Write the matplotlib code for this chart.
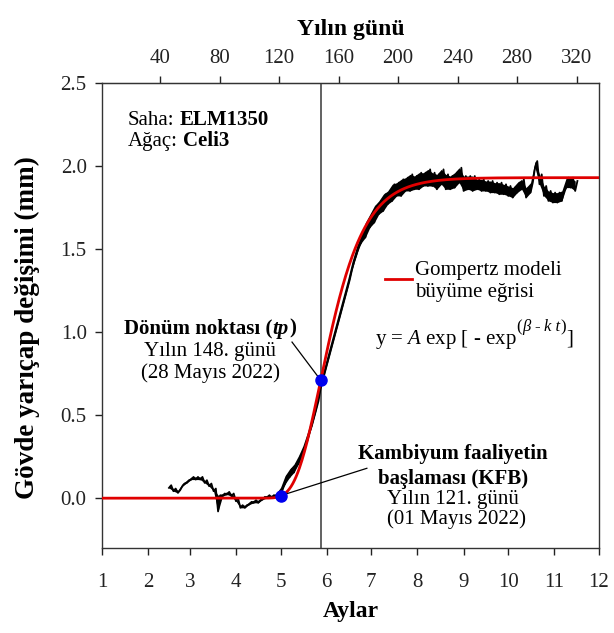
import matplotlib
matplotlib.use('Agg')
import matplotlib.pyplot as plt
import numpy as np
from matplotlib.transforms import ScaledTranslation

plt.rcParams['font.family'] = ['Liberation Serif', 'DejaVu Serif']
plt.rcParams['mathtext.fontset'] = 'custom'
plt.rcParams['mathtext.rm'] = 'Liberation Serif'
plt.rcParams['mathtext.it'] = 'Liberation Serif:italic'
plt.rcParams['mathtext.bf'] = 'Liberation Serif:bold'

# ---------------- data ----------------
month_tick_days = [1, 32, 60, 91, 121, 152, 182, 213, 244, 274, 305, 335]
month_labels = ['1', '2', '3', '4', '5', '6', '7', '8', '9', '10', '11', '12']
doy_ticks = [40, 80, 120, 160, 200, 240, 280, 320]
y_ticks = [0.0, 0.5, 1.0, 1.5, 2.0, 2.5]

obs_days = [46, 49, 52, 55, 58, 61, 64, 67, 70, 73,
            76, 79, 82, 85, 88, 91, 94, 97, 100, 103,
            106, 109, 112, 115, 118, 121, 124, 127, 130, 133,
            136, 139, 142, 145, 148, 151, 154, 157, 160, 163,
            166, 169, 172, 175, 178, 181, 184, 187, 190, 193,
            196, 199, 202, 205, 208, 211, 214, 217, 220, 223,
            226, 229, 232, 235, 238, 241, 244, 247, 250, 253,
            256, 259, 262, 265, 268, 271, 274, 277, 280, 283,
            286, 289, 292, 295, 298, 301, 304, 307, 310, 313,
            316, 319]
obs_max = [0.078, 0.058, 0.048, 0.088, 0.108, 0.128, 0.128, 0.128, 0.108, 0.088,
           0.058, 0.018, 0.028, 0.038, 0.028, -0.002, -0.042, -0.042, -0.022, -0.012,
           -0.012, 0.008, 0.018, 0.018, 0.028, 0.065, 0.135, 0.175, 0.205, 0.255,
           0.315, 0.395, 0.485, 0.585, 0.715, 0.815, 0.915, 1.015, 1.115, 1.215,
           1.315, 1.425, 1.515, 1.585, 1.66, 1.71, 1.76, 1.79, 1.83, 1.85,
           1.89, 1.90, 1.92, 1.93, 1.95, 1.94, 1.96, 1.96, 1.98, 1.96,
           1.95, 1.98, 1.95, 1.94, 1.96, 1.99, 1.94, 1.94, 1.94, 1.92,
           1.92, 1.91, 1.91, 1.90, 1.90, 1.89, 1.88, 1.87, 1.90, 1.92,
           1.87, 1.90, 2.03, 1.95, 1.88, 1.85, 1.84, 1.84, 1.85, 1.93,
           1.93, 1.91]
obs_min = [0.062, 0.042, 0.032, 0.072, 0.092, 0.112, 0.112, 0.112, 0.092, 0.072,
           0.042, -0.08, 0.012, 0.022, 0.012, -0.018, -0.058, -0.058, -0.038, -0.028,
           -0.028, -0.008, 0.002, 0.002, 0.012, 0.015, 0.085, 0.125, 0.155, 0.205,
           0.265, 0.345, 0.435, 0.535, 0.665, 0.765, 0.865, 0.965, 1.065, 1.165,
           1.265, 1.375, 1.465, 1.535, 1.57, 1.63, 1.66, 1.71, 1.73, 1.77,
           1.79, 1.82, 1.82, 1.85, 1.85, 1.86, 1.86, 1.88, 1.88, 1.88,
           1.86, 1.89, 1.86, 1.86, 1.87, 1.90, 1.85, 1.86, 1.85, 1.86,
           1.85, 1.85, 1.84, 1.84, 1.83, 1.83, 1.82, 1.81, 1.84, 1.86,
           1.81, 1.84, 1.99, 1.89, 1.82, 1.79, 1.78, 1.78, 1.79, 1.87,
           1.87, 1.85]

# Gompertz model parameters
gomp_A = 1.93
gomp_k = 0.06
gomp_beta = 8.88

tp_day, tp_val = 148, 0.71
kfb_day, kfb_val = 121, 0.015

# ---------------- figure ----------------
fig = plt.figure(figsize=(6.14, 6.33), dpi=100)
ax = fig.add_axes([102/614, 1-548/633, 497/614, 465/633])
ax.set_xlim(1, 335)
ax.set_ylim(-0.3, 2.5)

ax.axvline(tp_day, color='#555555', lw=1.3, zorder=1)

# measured band and zig-zag between daily minima and maxima
ax.fill_between(obs_days, obs_min, obs_max, color='black', lw=0, zorder=2)
zx, zy = [], []
for d, lo, hi in zip(obs_days, obs_min, obs_max):
    zx += [d, d + 1.5]
    zy += [lo, hi]
ax.plot(zx, zy, color='black', lw=1.3, zorder=2)

t = np.linspace(1, 335, 600)
y_model = gomp_A * np.exp(-np.exp(gomp_beta - gomp_k * t))
ax.plot(t, y_model, color='#e00000', lw=2.0, zorder=3)

# connector lines
ax.plot([tp_day, 128.7], [tp_val, 0.94], color='black', lw=0.9, zorder=4)
ax.plot([kfb_day, 179], [kfb_val, 0.18], color='black', lw=0.9, zorder=4)
ax.plot([tp_day], [tp_val], 'o', color='#0000ee', ms=8, zorder=5)
ax.plot([kfb_day], [kfb_val], 'o', color='#0000ee', ms=8, zorder=5)

# axes styling
ax.set_xticks(month_tick_days)
ax.set_xticklabels(month_labels)
ax.set_yticks(y_ticks)
ax.set_yticklabels([f'{v:.1f}' for v in y_ticks])
ax.tick_params(axis='x', direction='out', length=5, width=1, pad=13, labelsize=15, colors='#222222')
ax.tick_params(axis='y', direction='out', length=5, width=1, pad=6, labelsize=15, colors='#222222')
for s in ax.spines.values():
    s.set_color('#333333')
    s.set_linewidth(1.0)

sec = ax.secondary_xaxis('top')
sec.set_xticks(doy_ticks)
sec.tick_params(direction='out', length=5, width=1, pad=6, labelsize=15, colors='#222222')
sec.spines['top'].set_color('#333333')
sec.set_xlabel('Yılın günü', fontsize=17, fontweight='bold', labelpad=10)

ax.set_xlabel('Aylar', fontsize=17, fontweight='bold')
ax.xaxis.label.set_va('center')
ax.xaxis.set_label_coords(0.5, -(612-548)/465)
ax.set_ylabel('Gövde yarıçap değişimi (mm)', fontsize=19.5, fontweight='bold')
ax.yaxis.label.set_va('center')
ax.yaxis.set_label_coords((27-102)/497, 0.475)

# rich text helper
renderer = fig.canvas.get_renderer()

def _w(s, size, **kw):
    tt = fig.text(0, 0, s, size=size, **kw)
    w = tt.get_window_extent(renderer).width
    tt.remove()
    return w

def rich(x, y, parts, ha='center', size=15):
    texts, widths, dys = [], [], []
    for p in parts:
        s, kw = p[0], dict(p[1])
        dy = p[2] if len(p) > 2 else 0.0
        sz = kw.pop('size', size)
        if s == ' ':
            widths.append(_w('a a', sz, **kw) - _w('aa', sz, **kw))
            texts.append(None)
            dys.append(0)
            continue
        tt = ax.text(x, y, s, size=sz, ha='left', va='baseline', **kw)
        texts.append(tt)
        dys.append(dy)
        widths.append(tt.get_window_extent(renderer).width)
    total = sum(widths)
    off = -total / 2 if ha == 'center' else 0.0
    for tt, w, dy in zip(texts, widths, dys):
        if tt is not None:
            tt.set_transform(ax.transData + ScaledTranslation(off / fig.dpi, dy / 72.0,
                                                              fig.dpi_scale_trans))
        off += w

B = {'fontweight': 'bold'}
BI = {'fontweight': 'bold', 'fontstyle': 'italic'}
R = {}
FS = 15

rich(18.5, 2.246, [('Saha:', R), (' ', R), ('ELM1350', B)], ha='left')
rich(18.5, 2.118, [('Ağaç:', R), (' ', R), ('Celi3', B)], ha='left')

rich(73.6, 0.99, [('Dönüm noktası (', B), ('tp', BI), (')', B)])
ax.text(73.6, 0.855, 'Yılın 148. günü', size=FS, ha='center', va='baseline')
ax.text(73.6, 0.725, '(28 Mayıs 2022)', size=FS, ha='center', va='baseline')

ax.text(237, 0.234, 'Kambiyum faaliyetin', size=FS, ha='center', va='baseline', fontweight='bold')
ax.text(237, 0.084, 'başlaması (KFB)', size=FS, ha='center', va='baseline', fontweight='bold')
ax.text(237, -0.036, 'Yılın 121. günü', size=FS, ha='center', va='baseline')
ax.text(239, -0.156, '(01 Mayıs 2022)', size=FS, ha='center', va='baseline')

# legend
ax.plot([191, 209], [1.32, 1.32], color='#e00000', lw=2.0)
ax.text(211.3, 1.345, 'Gompertz modeli', size=FS, ha='left', va='baseline')
ax.text(211.3, 1.213, 'büyüme eğrisi', size=FS, ha='left', va='baseline')

SUP = {'size': 12}
SUPI = {'size': 12, 'fontstyle': 'italic'}
rich(184.5, 0.93, [('y = $A$ exp [ - exp', R),
                   ('(', SUP, 9), ('β', SUPI, 9), (' ', SUP), ('-', SUP, 9), (' ', SUP),
                   ('k t', SUPI, 9), (')', SUP, 9), (']', R)], ha='left')

fig.savefig('out.png', dpi=100)
